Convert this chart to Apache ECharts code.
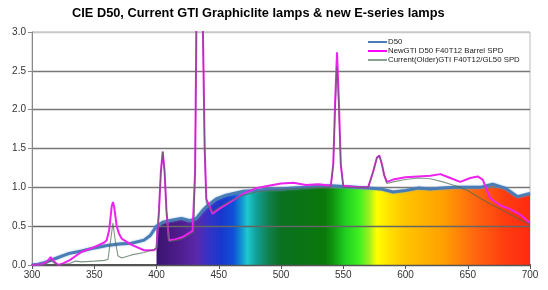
<!DOCTYPE html>
<html><head><meta charset="utf-8">
<script src="https://cdn.jsdelivr.net/npm/echarts@6/dist/echarts.min.js"></script>
<style>html,body{margin:0;padding:0;background:#fff}#c{width:548px;height:290px}</style>
</head><body><div id="c"></div>
<script>
const titleText = "CIE D50, Current GTI Graphiclite lamps & new E-series lamps";
const seriesNames = ["D50", "NewGTI D50 F40T12 Barrel SPD", "Current(Older)GTI F40T12/GL50 SPD"];
const xTicks = [300, 350, 400, 450, 500, 550, 600, 650, 700];
const yTicks = [0, 0.5, 1.0, 1.5, 2.0, 2.5, 3.0];

const d50Wl = [300,305,310,315,320,325,330,340,350,360,370,380,390,395,400,405,410,420,427,432,437,440,448,456,470,480,490,500,510,520,530,540,550,560,570,580,590,600,610,620,630,640,650,660,670,680,690,700];
const d50Val = [0,0.01,0.03,0.06,0.09,0.12,0.15,0.18,0.22,0.25,0.27,0.28,0.32,0.38,0.50,0.55,0.57,0.60,0.57,0.60,0.70,0.75,0.85,0.90,0.95,0.96,0.98,0.98,0.99,1.00,1.02,1.02,1.01,1.00,0.99,0.98,0.94,0.96,0.99,0.98,0.99,1.00,1.00,1.00,1.04,0.99,0.88,0.92];

const newWl = [300,308,312,315,318,321,325,330,340,350,358,360,362,364,365,366,368,370,372,380,390,398,400,402,403.5,405,406.5,408,410,415,421,429,431,432,434.8,437.3,438.7,440,445,450,460,470,480,490,500,510,520,530,540,542,543.5,545,546.5,548,550,556,560,570,574,577,579,581,583,585,590,600,610,620,628,636,644,652,658,662,665,668,676,684,692,700];
const newVal = [0,0.01,0.04,0.10,0.04,0.00,0.02,0.06,0.17,0.23,0.29,0.32,0.45,0.75,0.81,0.75,0.50,0.40,0.34,0.26,0.19,0.19,0.22,0.70,1.20,1.46,1.20,0.70,0.32,0.33,0.36,0.44,1.20,3.00,6.50,3.00,1.50,0.85,0.66,0.72,0.82,0.92,0.99,1.02,1.05,1.06,1.03,1.04,1.02,1.30,2.10,2.74,2.10,1.30,1.02,1.01,1.00,1.00,1.20,1.38,1.41,1.30,1.15,1.07,1.10,1.13,1.14,1.15,1.17,1.12,1.07,1.12,1.14,1.10,0.98,0.86,0.77,0.72,0.65,0.54];

const curWl = [300,310,315,318,322,330,335,340,350,358,361,363,365,367,369,372,380,390,398,400,402,403.5,405,406.5,408,410,420,430,431,432,434.8,437.3,438.7,440,445,450,460,470,480,490,500,510,520,530,540,542,543.5,545,546.5,548,550,560,570,574,577,579,581,583,585,590,600,610,620,630,640,650,660,670,680,690,700];
const curVal = [0,0,0.06,0.02,0,0.02,0.05,0.04,0.05,0.06,0.07,0.30,0.54,0.30,0.12,0.09,0.13,0.16,0.20,0.22,0.70,1.20,1.46,1.20,0.70,0.30,0.33,0.42,1.20,3.00,6.50,3.00,1.50,0.80,0.68,0.74,0.83,0.90,0.94,0.96,0.97,0.98,0.99,1.00,1.00,1.30,2.00,2.56,2.00,1.30,1.00,1.00,1.00,1.20,1.38,1.41,1.30,1.15,1.05,1.07,1.10,1.12,1.11,1.07,1.02,0.96,0.86,0.77,0.69,0.60,0.52];

const spectrumStops = [
  [400,'#3a1470'],[420,'#501e90'],[432,'#5a28a8'],[440,'#3c30c4'],[452,'#1838cc'],[462,'#1050d8'],
  [468,'#1090d0'],[473,'#20c8d0'],[480,'#10a098'],[490,'#108050'],[500,'#0a7020'],[535,'#0a780a'],
  [542,'#109810'],[552,'#20d020'],[563,'#40f020'],[571,'#a0f020'],[577,'#ffff00'],[587,'#ffe000'],
  [600,'#ffc400'],[630,'#ffa000'],[655,'#ff6810'],[680,'#ff3c10'],[700,'#ff2a10']
];

const pairs = (w, v) => w.map((x, i) => [x, v[i]]);
const fillData = pairs(d50Wl, d50Val).filter(p => p[0] >= 400);
const fillColor = new echarts.graphic.LinearGradient(0, 0, 1, 0,
  spectrumStops.map(s => ({offset: (s[0] - 400) / 300, color: s[1]})));

const chart = echarts.init(document.getElementById('c'), null, {renderer: 'canvas'});
chart.setOption({
  animation: false,
  title: {text: titleText, left: 67, top: 2, textStyle: {fontFamily: 'Liberation Sans', fontSize: 12.8, fontWeight: 'bold', color: '#000'}},
  legend: {
    orient: 'vertical', left: 368, top: 38, padding: 0, itemGap: 1,
    itemWidth: 19, itemHeight: 2, icon: 'rect',
    data: seriesNames,
    textStyle: {fontFamily: 'Liberation Sans', fontSize: 7.8, color: '#222', lineHeight: 8, padding: [0,0,0,-4]}
  },
  grid: {left: 32, right: 18, top: 32, bottom: 25, show: true, borderColor: '#bbb', borderWidth: 1},
  xAxis: {
    type: 'value', min: xTicks[0], max: xTicks[xTicks.length-1], interval: 50,
    axisLine: {lineStyle: {color: '#555', width: 2}},
    axisTick: {show: true, length: 4, lineStyle: {color: '#555'}},
    axisLabel: {fontFamily: 'Liberation Sans', fontSize: 10, color: '#333', margin: 5},
    splitLine: {show: false}
  },
  yAxis: {
    type: 'value', min: yTicks[0], max: yTicks[yTicks.length-1], interval: 0.5, z: 2,
    axisLine: {show: true, lineStyle: {color: '#888'}},
    axisTick: {show: true, length: 4, lineStyle: {color: '#888'}},
    axisLabel: {fontFamily: 'Liberation Sans', fontSize: 10, color: '#333', margin: 6, formatter: v => v.toFixed(1)},
    splitLine: {show: true, lineStyle: {color: ['#555','#666','#777','#777','#777','#777','#c8c8c8'], width: 1.4}}
  },
  series: [
    {name: 'fill', type: 'line', z: 1, data: fillData, showSymbol: false, symbol: 'none',
     lineStyle: {width: 0, opacity: 0}, areaStyle: {color: fillColor, opacity: 1}, legendHoverLink: false, silent: true},
    {name: seriesNames[0], type: 'line', z: 3, data: pairs(d50Wl, d50Val), symbol: 'none', color: '#4a7db5',
     lineStyle: {width: 3, color: '#4a7db5', shadowBlur: 2, shadowColor: 'rgba(110,160,215,0.8)'}},
    {name: seriesNames[1], type: 'line', z: 4, data: pairs(newWl, newVal), symbol: 'none', color: '#ff00ff',
     lineStyle: {width: 2, color: '#ee22ee'}},
    {name: seriesNames[2], type: 'line', z: 5, data: pairs(curWl, curVal), symbol: 'none', color: '#8aa294',
     lineStyle: {width: 1.1, color: '#4a6a50', opacity: 0.7}}
  ]
});
</script></body></html>
